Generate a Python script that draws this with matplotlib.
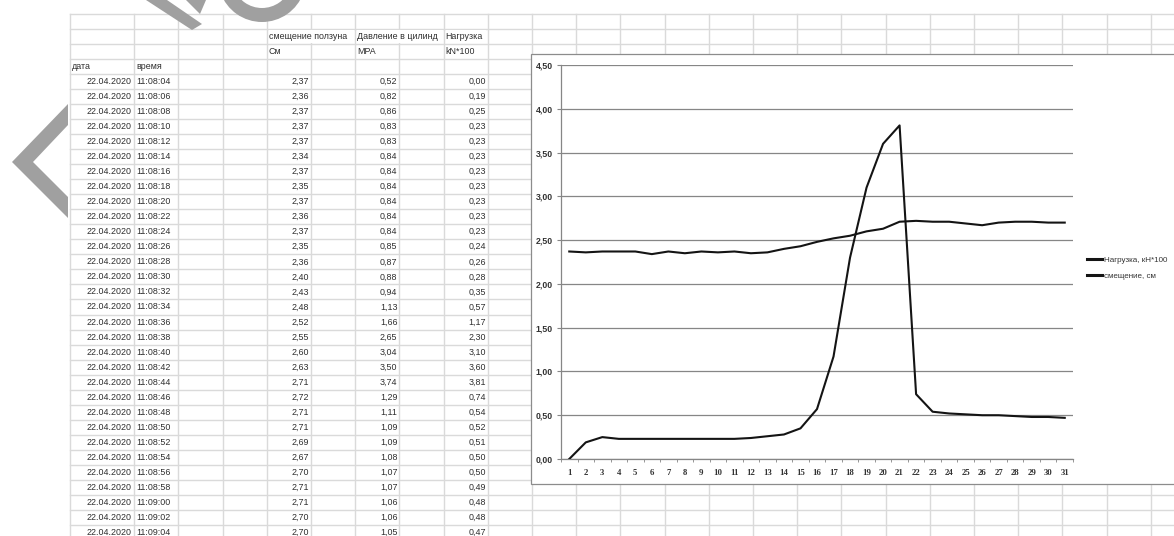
import matplotlib
matplotlib.use("Agg")
import matplotlib.pyplot as plt
from matplotlib.patches import Rectangle, Polygon, Wedge
import numpy as np

# worksheet data
dates = ["22.04.2020"] * 31
times = ["11:08:%02d" % s for s in range(4, 60, 2)] + ["11:09:00", "11:09:02", "11:09:04"]
smeshenie = [2.37, 2.36, 2.37, 2.37, 2.37, 2.34, 2.37, 2.35, 2.37, 2.36, 2.37, 2.35, 2.36,
             2.40, 2.43, 2.48, 2.52, 2.55, 2.60, 2.63, 2.71, 2.72, 2.71, 2.71, 2.69, 2.67,
             2.70, 2.71, 2.71, 2.70, 2.70]
davlenie = [0.52, 0.82, 0.86, 0.83, 0.83, 0.84, 0.84, 0.84, 0.84, 0.84, 0.84, 0.85, 0.87,
            0.88, 0.94, 1.13, 1.66, 2.65, 3.04, 3.50, 3.74, 1.29, 1.11, 1.09, 1.09, 1.08,
            1.07, 1.07, 1.06, 1.06, 1.05]
nagruzka = [0.00, 0.19, 0.25, 0.23, 0.23, 0.23, 0.23, 0.23, 0.23, 0.23, 0.23, 0.24, 0.26,
            0.28, 0.35, 0.57, 1.17, 2.30, 3.10, 3.60, 3.81, 0.74, 0.54, 0.52, 0.51, 0.50,
            0.50, 0.49, 0.48, 0.48, 0.47]
headers = ["смещение ползуна", "Давление в цилинд", "Нагрузка"]
units = ["См", "MPA", "kN*100"]
legend_labels = ["Нагрузка, кН*100", "смещение, см"]

W, H = 1174, 536
fig = plt.figure(figsize=(W / 100, H / 100), dpi=100)

# sheet layer in pixel coordinates
sheet = fig.add_axes([0, 0, 1, 1])
sheet.set_xlim(0, W)
sheet.set_ylim(H, 0)
sheet.axis("off")

grid_c = "#dadada"
row_h = 15.05
row0 = 13.5
col_x = [70, 134] + list(178.4 + 44.2 * np.arange(23))
row_y = row0 + row_h * np.arange(36)
for y in row_y:
    sheet.plot([70, W], [y, y], color=grid_c, lw=1.0, zorder=1)
for x in col_x:
    sheet.plot([x, x], [row0, H], color=grid_c, lw=1.0, zorder=1)

txt = dict(fontsize=6.4, family="Liberation Sans", color="#2e2e2e", va="center", zorder=3)

def row_c(r):
    return row0 + row_h * (r + 0.5)

# header text spills over the next cell and hides its gridline
for i, (h, u) in enumerate(zip(headers, units)):
    x0 = col_x[4 + 2 * i] + 2
    sheet.add_patch(Rectangle((x0, row_y[1] + 1), col_x[6 + 2 * i] - x0 - 1 if i < 2 else 40,
                              row_h - 2, color="white", lw=0, zorder=2))
    sheet.text(x0, row_c(1), h, ha="left", **txt)
    sheet.text(x0, row_c(2), u, ha="left", **txt)
sheet.text(72, row_c(3), "дата", ha="left", **txt)
sheet.text(136, row_c(3), "время", ha="left", **txt)

def fmt(v):
    return ("%.2f" % v).replace(".", ",")

for i in range(31):
    yc = row_c(4 + i)
    sheet.text(132, yc, dates[i], ha="right", **txt)
    sheet.text(136, yc, times[i], ha="left", **txt)
    for j, col in enumerate([smeshenie, davlenie, nagruzka]):
        sheet.text(col_x[5 + 2 * j] - 2, yc, fmt(col[i]), ha="right", **txt)

# watermark fragments
wm = "#a0a0a0"
sheet.add_patch(Polygon([(68, 104), (12, 162), (68, 218), (68, 197), (33, 162), (68, 125)],
                        closed=True, color=wm, lw=0, zorder=4))
sheet.add_patch(Polygon([(146, 0), (167, 0), (202, 24), (192, 30)], closed=True,
                        color=wm, lw=0, zorder=4))
sheet.add_patch(Polygon([(186, 0), (206, 0), (200, 14)], closed=True, color=wm, lw=0, zorder=4))
sheet.add_patch(Wedge((262, -22), 44, 20, 160, width=14, color=wm, lw=0, zorder=4))

# chart frame
sheet.add_patch(Rectangle((530.5, 53.5), 700, 430, facecolor="white",
                          edgecolor="#8c8c8c", lw=0.9, zorder=5))

# chart
ax_l, ax_r, ax_t, ax_b = 561, 1073, 65, 459
ax = fig.add_axes([ax_l / W, (H - ax_b) / H, (ax_r - ax_l) / W, (ax_b - ax_t) / H])
ax.set_zorder(2)
ax.patch.set_alpha(0)

x = np.arange(31) + 0.5
ax.plot(x, nagruzka, color="#141414", lw=1.5, label=legend_labels[0], zorder=3)
ax.plot(x, smeshenie, color="#141414", lw=1.5, label=legend_labels[1], zorder=3)

ax.set_xlim(0, 31)
ax.set_ylim(0, 4.5)
yt = np.arange(0, 4.51, 0.5)
ax.set_yticks(yt)
ax.set_yticklabels([fmt(v) for v in yt], fontsize=6.3, family="Liberation Sans",
                   fontweight="bold", color="#333333")
ax.yaxis.grid(True, color="#868686", lw=0.9)
ax.set_axisbelow(True)
ax.set_xticks(x)
ax.set_xticklabels([str(i + 1) for i in range(31)], fontsize=6.3, family="Liberation Serif",
                   fontweight="bold", color="#333333")
ax.set_xticks(np.arange(32), minor=True)
ax.tick_params(axis="x", which="major", length=0, pad=7)
ax.tick_params(axis="x", which="minor", length=2.5, color="#868686")
ax.tick_params(axis="y", length=3, color="#868686", pad=3)
for s in ["top", "right"]:
    ax.spines[s].set_visible(False)
for s in ["left", "bottom"]:
    ax.spines[s].set_color("#868686")
    ax.spines[s].set_linewidth(0.9)

leg = fig.legend(loc="center left", bbox_to_anchor=(1087 / W, (H - 268) / H),
                 frameon=False, fontsize=5.8, handlelength=1.8, handletextpad=0.3,
                 labelspacing=1.1, borderpad=0, borderaxespad=0)
for line in leg.get_lines():
    line.set_linewidth(2.2)
for t in leg.get_texts():
    t.set_family("Liberation Sans")
    t.set_color("#333333")

fig.savefig("out.png", dpi=100)
